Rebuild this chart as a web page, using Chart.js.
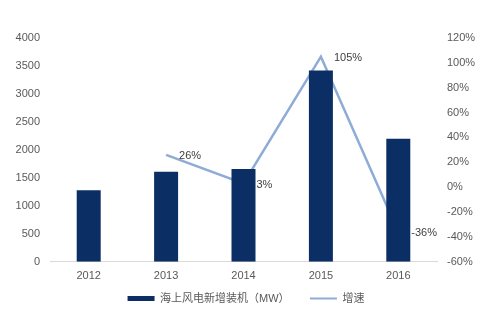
<!DOCTYPE html>
<html>
<head>
<meta charset="utf-8">
<script src="https://cdn.jsdelivr.net/npm/chart.js@4.4.0/dist/chart.umd.min.js"></script>
<style>
  html, body { margin: 0; padding: 0; background: #fff; }
  #wrap { width: 492px; height: 325px; }
</style>
</head>
<body>
<div id="wrap"><canvas id="windChart" width="492" height="325"></canvas></div>
<script>
// 海上风电新增装机 (MW) 与增速
var years = ['2012', '2013', '2014', '2015', '2016'];
var newCapacity = [1280, 1610, 1660, 3420, 2200];
var growthRate = [null, 26, 3, 105, -36];

var textFont = "'Liberation Sans', Arial, 'Noto Sans CJK SC', sans-serif";

// 折线上的百分比标签
var growthLabels = {
    id: 'growthLabels',
    afterDatasetsDraw: function (chart) {
        var ctx = chart.ctx;
        var meta = chart.getDatasetMeta(1);
        ctx.save();
        ctx.font = '11px ' + textFont;
        ctx.fillStyle = '#404040';
        ctx.textBaseline = 'middle';
        ctx.textAlign = 'left';
        meta.data.forEach(function (pt, i) {
            if (growthRate[i] === null) return;
            ctx.fillText(growthRate[i] + '%', pt.x + 13, pt.y + 1);
        });
        ctx.restore();
    }
};

var ctx = document.getElementById('windChart').getContext('2d');
new Chart(ctx, {
    type: 'bar',
    data: {
        labels: years,
        datasets: [{
            label: '海上风电新增装机（MW）',
            data: newCapacity,
            backgroundColor: '#0b2f64',
            barPercentage: 0.31,
            categoryPercentage: 1,
            yAxisID: 'y'
        }, {
            type: 'line',
            label: '增速',
            data: growthRate,
            borderColor: '#8eacd6',
            backgroundColor: '#8eacd6',
            borderWidth: 2.5,
            pointRadius: 0,
            tension: 0,
            yAxisID: 'y1'
        }]
    },
    options: {
        responsive: false,
        animation: false,
        layout: { padding: { top: 38, bottom: 11 } },
        plugins: {
            tooltip: { enabled: false },
            legend: {
                position: 'bottom',
                labels: {
                    color: '#595959',
                    font: { size: 11, family: textFont },
                    usePointStyle: true,
                    pointStyleWidth: 27,
                    boxHeight: 5,
                    padding: 2,
                    generateLabels: function (chart) {
                        var items = Chart.defaults.plugins.legend.labels.generateLabels(chart);
                        items.sort(function (a, b) { return a.datasetIndex - b.datasetIndex; });
                        items.forEach(function (item) {
                            if (item.datasetIndex === 0) {
                                item.pointStyle = 'rect';
                                item.lineWidth = 0;
                                item.text = item.text + '      ';
                            } else {
                                item.pointStyle = 'line';
                                item.lineWidth = 2;
                            }
                        });
                        return items;
                    }
                }
            }
        },
        scales: {
            x: {
                grid: { display: false, drawTicks: false },
                border: { color: '#d9d9d9', width: 1 },
                ticks: { color: '#595959', font: { size: 11, family: textFont }, padding: 8 }
            },
            y: {
                position: 'left',
                min: 0,
                max: 4000,
                grid: { display: false, drawTicks: false },
                border: { display: false },
                ticks: {
                    stepSize: 500,
                    color: '#595959',
                    font: { size: 11, family: textFont },
                    padding: 10,
                    callback: function (value) { return String(value); }
                },
                afterFit: function (scale) { scale.width = 50; }
            },
            y1: {
                position: 'right',
                min: -60,
                max: 120,
                grid: { display: false, drawTicks: false },
                border: { display: false },
                ticks: {
                    stepSize: 20,
                    color: '#595959',
                    font: { size: 11, family: textFont },
                    padding: 10,
                    callback: function (value) { return value + '%'; }
                },
                afterFit: function (scale) { scale.width = 55; }
            }
        }
    },
    plugins: [growthLabels]
});
</script>
</body>
</html>
